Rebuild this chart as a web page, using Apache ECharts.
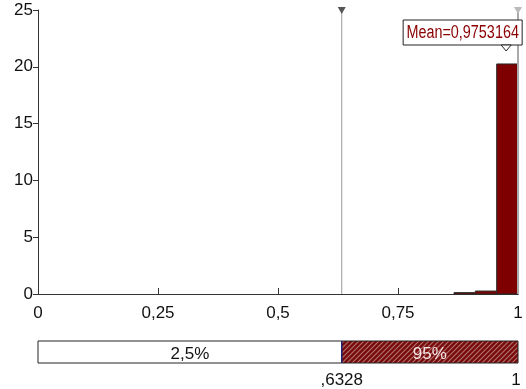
<!DOCTYPE html>
<html><head><meta charset="utf-8">
<script src="https://cdn.jsdelivr.net/npm/echarts@6/dist/echarts.min.js"></script>
<style>html,body{margin:0;padding:0;background:#fff}#c{width:526px;height:389px}</style>
</head><body><div id="c"></div>
<script>
// ---- data ----
const binStarts = [0.8667, 0.9111, 0.9556];
const binEnds = [0.9111, 0.9556, 1.0];
const binHeights = [0.12, 0.26, 20.25];
const xTicks = [0, 0.25, 0.5, 0.75, 1];
const yTicks = [0, 5, 10, 15, 20, 25];
const meanValue = 0.9753164;
const lowerBound = 0.6328;
const upperBound = 1;
const bandLabels = ['2,5%', '95%'];
const boundLabels = [',6328', '1'];
const meanLabel = 'Mean=0,9753164';

const FONT = '"Liberation Sans", Arial, sans-serif';
const fmt = v => String(v).replace('.', ',');

const pat = document.createElement('canvas');
pat.width = 5; pat.height = 5;
(function () {
  const g = pat.getContext('2d');
  g.fillStyle = '#7a0a0a'; g.fillRect(0, 0, 5, 5);
  g.strokeStyle = '#b07474'; g.lineWidth = 1.1;
  g.beginPath();
  g.moveTo(-1, 6); g.lineTo(6, -1);
  g.moveTo(-6, 6); g.lineTo(1, -1);
  g.moveTo(4, 6); g.lineTo(11, -1);
  g.stroke();
})();

const chart = echarts.init(document.getElementById('c'), null, {renderer: 'canvas'});
const yMax = yTicks[yTicks.length - 1];
const xInt = xTicks[1] - xTicks[0];
const yInt = yTicks[1] - yTicks[0];

chart.setOption({
  animation: false,
  grid: [
    {left: 38, right: 8, top: 10, bottom: 95},
    {left: 38, right: 8, top: 341, height: 22}
  ],
  xAxis: [
    {gridIndex: 0, type: 'value', min: xTicks[0], max: xTicks[xTicks.length - 1], interval: xInt,
     axisLine: {show: true, lineStyle: {color: '#333', width: 1}},
     axisTick: {show: true, inside: true, length: 6, lineStyle: {color: '#333'}},
     axisLabel: {formatter: fmt, fontSize: 17, color: '#111', fontFamily: FONT, margin: 11},
     splitLine: {show: false}},
    {gridIndex: 0, type: 'value', position: 'top', min: xTicks[0], max: xTicks[xTicks.length - 1],
     axisLine: {show: true, lineStyle: {color: '#333', width: 1}},
     axisTick: {show: false}, axisLabel: {show: false}, splitLine: {show: false}},
    {gridIndex: 1, type: 'value', min: 0, max: 1, show: false}
  ],
  yAxis: [
    {gridIndex: 0, type: 'value', min: yTicks[0], max: yMax, interval: yInt,
     axisLine: {show: true, lineStyle: {color: '#333', width: 1}},
     axisTick: {show: true, length: 5, lineStyle: {color: '#333'}},
     axisLabel: {fontSize: 17, color: '#111', fontFamily: FONT, margin: 5},
     splitLine: {show: false}},
    {gridIndex: 0, type: 'value', min: yTicks[0], max: yMax, interval: yInt,
     axisLine: {show: false},
     axisTick: {show: true, inside: true, length: 5, lineStyle: {color: '#333'}},
     axisLabel: {show: false}, splitLine: {show: false}},
    {gridIndex: 1, type: 'value', min: 0, max: 1, show: false}
  ],
  series: [
    {
      type: 'custom', xAxisIndex: 0, yAxisIndex: 0, z: 2,
      data: binStarts.map((s, i) => [s, binEnds[i], binHeights[i]]),
      renderItem: function (params, api) {
        const a = api.coord([api.value(0), 0]);
        const b = api.coord([api.value(1), api.value(2)]);
        return {type: 'rect', shape: {x: a[0], y: b[1], width: b[0] - a[0], height: a[1] - b[1]},
          style: {fill: '#7f0000', stroke: '#2a2a2a', lineWidth: 1}};
      }
    },
    {
      type: 'custom', xAxisIndex: 0, yAxisIndex: 0, z: 3,
      data: [[lowerBound, 0], [upperBound, 1]],
      renderItem: function (params, api) {
        const v = api.value(0);
        const p0 = api.coord([v, 0]);
        const p1 = api.coord([v, yMax]);
        const dark = api.value(1) === 0;
        return {type: 'group', children: [
          {type: 'line', shape: {x1: p0[0], y1: p0[1], x2: p1[0], y2: p1[1]},
           style: {stroke: dark ? '#999' : '#aaa', lineWidth: dark ? 1 : 2}},
          {type: 'polygon', shape: {points: [[p1[0] - 4, p1[1] - 3], [p1[0] + 4, p1[1] - 3], [p1[0], p1[1] + 4]]},
           style: {fill: dark ? '#555' : '#bbb'}}
        ]};
      }
    },
    {
      type: 'custom', xAxisIndex: 0, yAxisIndex: 0, z: 5, clip: false,
      data: [[meanValue, yMax]],
      renderItem: function (params, api) {
        const p = api.coord([api.value(0), api.value(1)]);
        const x = p[0], y = p[1];
        return {type: 'group', children: [
          {type: 'rect', shape: {x: x - 103, y: y + 10, width: 119, height: 25},
           style: {fill: '#fff', stroke: '#222', lineWidth: 1}},
          {type: 'text', x: x - 43.5, y: y + 23, scaleX: 0.8,
           style: {text: meanLabel, x: 0, y: 0, align: 'center', verticalAlign: 'middle',
            fill: '#8b0000', fontSize: 18, fontFamily: FONT}},
          {type: 'polygon', shape: {points: [[x - 5, y + 35], [x + 5, y + 35], [x, y + 41]]},
           style: {fill: '#fff', stroke: '#222', lineWidth: 1}}
        ]};
      }
    },
    {
      type: 'custom', xAxisIndex: 2, yAxisIndex: 2, z: 2, clip: false,
      data: [[0, lowerBound, 0], [lowerBound, upperBound, 1]],
      renderItem: function (params, api) {
        const s = api.value(0), e = api.value(1), i = api.value(2);
        const a = api.coord([s, 1]);
        const b = api.coord([e, 0]);
        const w = b[0] - a[0], h = b[1] - a[1];
        const children = [
          {type: 'rect', shape: {x: a[0], y: a[1], width: w, height: h},
           style: i === 0 ? {fill: '#fff', stroke: '#222', lineWidth: 1}
                          : {fill: {image: pat, repeat: 'repeat'}, stroke: '#222', lineWidth: 1}},
          {type: 'text', style: {text: bandLabels[i], x: a[0] + w / 2, y: a[1] + h / 2 + 2, align: 'center', verticalAlign: 'middle',
            fill: i === 0 ? '#111' : '#f4e6e6', fontSize: 17, fontFamily: FONT}},
          {type: 'text', style: {text: boundLabels[i], x: b[0] - (i === 1 ? 2 : 0), y: b[1] + 17, align: 'center', verticalAlign: 'middle',
            fill: '#111', fontSize: 17, fontFamily: FONT}}
        ];
        if (i === 1) children.push({type: 'line', shape: {x1: a[0], y1: a[1], x2: a[0], y2: b[1]}, style: {stroke: '#1a237e', lineWidth: 1.2}});
        return {type: 'group', children: children};
      }
    }
  ]
});
</script>
</body></html>
